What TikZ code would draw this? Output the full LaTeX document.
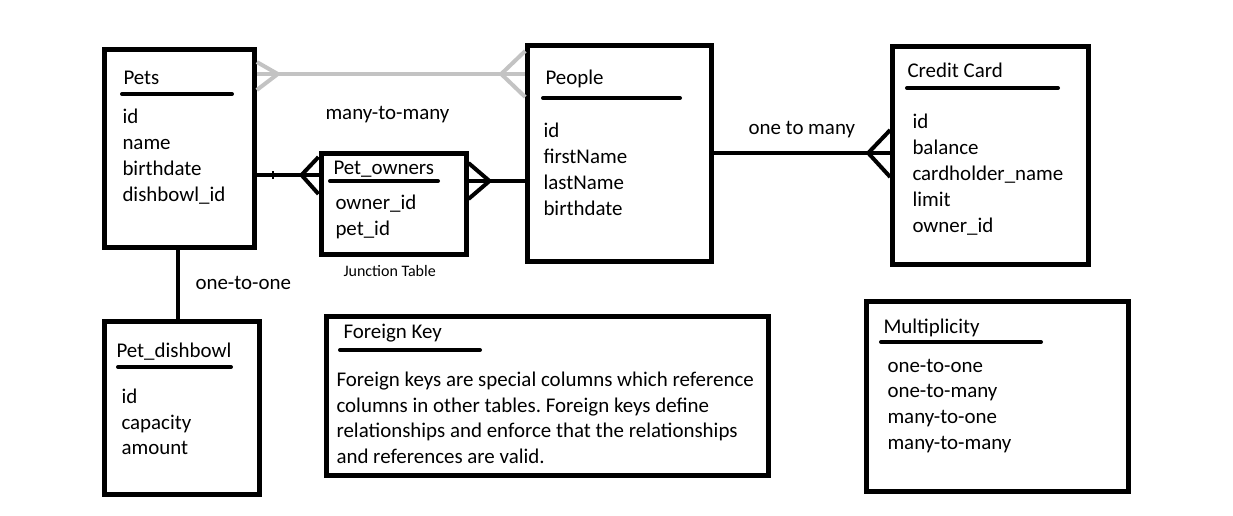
\documentclass[tikz,border=0pt]{standalone}
\usepackage{fontspec}
\setmainfont{Carlito}
\frenchspacing

\tikzset{every picture/.style={line width=0.75pt}}
\tikzset{
  tbl/.style={draw, line width=3.75pt, inner sep=0pt},
  bar/.style={line width=3pt, line cap=round},
  link/.style={line width=3pt},
  txt/.style={anchor=base west, inner sep=0pt, font=\fontsize{15.7}{18}\selectfont},
  small/.style={anchor=base west, inner sep=0pt, font=\fontsize{12}{14}\selectfont}
}
\definecolor{mmgray}{RGB}{195,195,195}

\begin{document}
\begin{tikzpicture}[x=0.75pt,y=0.75pt,yscale=-1,xscale=1]
\useasboundingbox (0,0) rectangle (1233,515);

%Tables
\node [tbl, minimum width=112.2pt, minimum height=148.2pt] (pets) at (179.5,148.5) {};
\node [tbl, minimum width=108.75pt, minimum height=75.75pt] (owners) at (393.5,203.5) {};
\node [tbl, minimum width=138pt, minimum height=162pt] (people) at (619.7,153.7) {};
\node [tbl, minimum width=146.7pt, minimum height=163.7pt] (card) at (990.5,155.8) {};
\node [tbl, minimum width=116.5pt, minimum height=130pt] (dish) at (181.7,408.3) {};
\node [tbl, minimum width=331.7pt, minimum height=119.25pt] (fkey) at (547.2,396.2) {};
\node [tbl, minimum width=196.7pt, minimum height=142.5pt] (mult) at (997.2,396.7) {};

%levels of the connectors
\coordinate (mm) at (0,74);
\coordinate (po) at (0,175);
\coordinate (pp) at (0,181);
\coordinate (pc) at (0,153);
\coordinate (oo) at (178,0);

%Pets -- People (many-to-many, gray)
\draw [link, mmgray] (pets.east |- mm) -- (people.west |- mm);
\draw [link, mmgray] (pets.east |- mm) ++(0,-12) -- ++(21,12) -- ++(-21,16);
\draw [link, mmgray] (people.west |- mm) ++(0,-23) -- ++(-24,23) -- ++(24,23);
%Pets -- Pet_owners
\draw [link] (pets.east |- po) -- (owners.west |- po);
\draw [line width=1.5pt] (273,171) -- (273,179);
\draw [link] (owners.west |- po) ++(0,-18) -- ++(-17,18) -- ++(17,19);
%Pet_owners -- People
\draw [link] (owners.east |- pp) -- (people.west |- pp);
\draw [link] (owners.east |- pp) ++(0,-18) -- ++(21,18) -- ++(-21,18);
%People -- Credit Card
\draw [link] (people.east |- pc) -- (card.west |- pc);
\draw [link] (card.west |- pc) ++(0,-23) -- ++(-22,23) -- ++(22,24);
%Pets -- Pet_dishbowl
\draw [link] (pets.south -| oo) -- (dish.north -| oo);

%Title bars
\draw [bar] (122,94) -- (232,94);
\draw [bar] (330,181) -- (438,181);
\draw [bar] (543,98) -- (680,98);
\draw [bar] (907,88) -- (1058,88);
\draw [bar] (118,367) -- (231,367);
\draw [bar] (340,350) -- (480,350);
\draw [bar] (881,342) -- (1041,342);

% Text Node
\node [txt] (petsT) at (123,84) {Pets};
\node [txt] (pets1) at (122,123) {id};
\node [txt] (pets2) at (122,149) {name};
\node [txt] (pets3) at (122,175) {birthdate};
\node [txt] (pets4) at (122,201) {dishbowl\_id};
% Text Node
\node [txt] (ownersT) at (333,174) {Pet\_owners};
\node [txt] (owners1) at (335,209) {owner\_id};
\node [txt] (owners2) at (335,235) {pet\_id};
\node [small] (junction) at (343,276) {Junction Table};
% Text Node
\node [txt] (peopleT) at (545,84) {People};
\node [txt] (people1) at (543,137) {id};
\node [txt] (people2) at (543,163) {firstName};
\node [txt] (people3) at (543,189) {lastName};
\node [txt] (people4) at (543,215) {birthdate};
% Text Node
\node [txt] (cardT) at (907,77) {Credit Card};
\node [txt] (card1) at (912,128) {id};
\node [txt] (card2) at (912,154) {balance};
\node [txt] (card3) at (912,180) {cardholder\_name};
\node [txt] (card4) at (912,206) {limit};
\node [txt] (card5) at (912,232) {owner\_id};
% Text Node
\node [txt] (dishT) at (116,357) {Pet\_dishbowl};
\node [txt] (dish1) at (121,403) {id};
\node [txt] (dish2) at (121,429) {capacity};
\node [txt] (dish3) at (121,454) {amount};
% Text Node
\node [txt] (fkeyT) at (343,338) {Foreign Key};
\node [txt] (fkey1) at (336,386) {Foreign keys are special columns which reference};
\node [txt] (fkey2) at (336,412) {columns in other tables. Foreign keys define};
\node [txt] (fkey3) at (336,437) {relationships and enforce that the relationships};
\node [txt] (fkey4) at (336,463) {and references are valid.};
% Text Node
\node [txt] (multT) at (883,333) {Multiplicity};
\node [txt] (mult1) at (887,372) {one-to-one};
\node [txt] (mult2) at (887,397) {one-to-many};
\node [txt] (mult3) at (887,423) {many-to-one};
\node [txt] (mult4) at (887,449) {many-to-many};
% Text Node
\node [txt] (mmL) at (325,119) {many-to-many};
\node [txt] (pcL) at (748,134) {one to many};
\node [txt] (ooL) at (195,289) {one-to-one};

\end{tikzpicture}
\end{document}
